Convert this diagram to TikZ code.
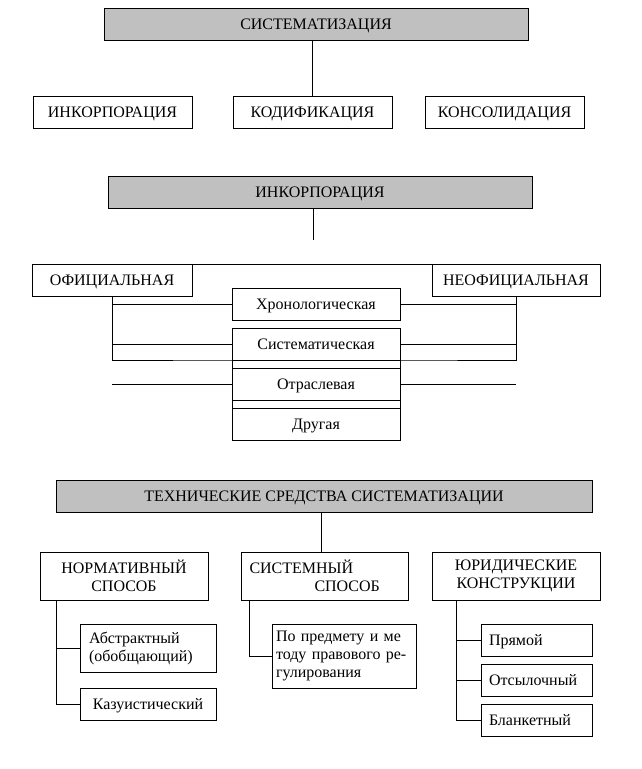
\documentclass[tikz,border=0pt]{standalone}
\usepackage{fontspec}
\setmainfont{Liberation Serif}
\definecolor{headgray}{HTML}{C0C0C0}
\tikzset{
	box/.style={draw, inner sep=0pt, outer sep=0pt, minimum height=32pt, text height=12pt, text depth=1.5pt, font=\fontsize{16}{18}\selectfont},
	headbox/.style={box, fill=headgray},
	multibox/.style={draw, inner sep=0pt, outer sep=0pt, font=\fontsize{16}{18}\selectfont},
	leafbox/.style={box, align=left}
}
\begin{document}
\begin{tikzpicture}[x=1pt, y=-1pt, line width=0.9pt]
		\useasboundingbox (0,0) rectangle (641,769);
		% systematisation
		\node[headbox, minimum width=424pt] (sys) at (316,24) {СИСТЕМАТИЗАЦИЯ};
		\node[box, minimum width=159pt] (inc) at (112.5,112) {ИНКОРПОРАЦИЯ};
		\node[box, minimum width=159pt] (cod) at (312.5,112) {КОДИФИКАЦИЯ};
		\node[box, minimum width=159pt] (cons) at (504.5,112) {КОНСОЛИДАЦИЯ};
		\draw (cod.north |- sys.south) -- (cod.north);
		
		% incorporation
		\node[headbox, minimum width=424pt] (inchead) at (320,192) {ИНКОРПОРАЦИЯ};
		\coordinate (incend) at (313,240);
		\draw (incend |- inchead.south) -- (incend);
		\node[box, minimum width=160pt] (ofic) at (112,280) {ОФИЦИАЛЬНАЯ};
		\node[box, minimum width=168pt] (neof) at (516,280) {НЕОФИЦИАЛЬНАЯ};
		\node[box, minimum width=168pt] (chron) at (316,304) {Хронологическая};
		\node[box, minimum width=168pt] (syst) at (316,344) {Систематическая};
		\node[box, minimum width=168pt] (otr) at (316,384) {Отраслевая};
		\node[box, minimum width=168pt] (oth) at (316,424) {Другая};
		\draw (ofic.north east) -- (neof.north west);
		\draw (syst.south west) -- (otr.north west) (syst.south east) -- (otr.north east);
		\draw (otr.south west) -- (oth.north west) (otr.south east) -- (oth.north east);
		\draw (ofic.south) |- (syst.south west) -- (syst.south east) -| (neof.south);
		\foreach \n in {chron,syst,otr}
			\draw (ofic.south |- \n.west) -- (\n.west) (\n.east) -- (neof.south |- \n.east);
		
		% technical means
		\node[headbox, minimum width=536pt] (tech) at (324,496) {ТЕХНИЧЕСКИЕ СРЕДСТВА СИСТЕМАТИЗАЦИИ};
		\node[multibox, minimum width=168pt, minimum height=48pt, align=center] (norm) at (124,576) {НОРМАТИВНЫЙ\\СПОСОБ};
		\node[multibox, minimum width=167pt, minimum height=48pt, text width=150pt, align=left] (sysm) at (324.5,576) {СИСТЕМНЫЙ\\\hspace*{65pt}СПОСОБ};
		\node[multibox, minimum width=168pt, minimum height=48pt, align=center] (jur) at (516,576) {ЮРИДИЧЕСКИЕ\\КОНСТРУКЦИИ};
		\coordinate (techend) at (321,552);
		\draw (techend |- tech.south) -- (techend);
		
		\node[multibox, minimum width=136pt, minimum height=48pt, text width=118pt, align=left] (abstr) at (148,648) {Абстрактный\\(обобщающий)};
		\node[box, minimum width=136pt] (kaz) at (148,704) {Казуистический};
		\coordinate (normline) at ([xshift=16pt]norm.south west);
		\draw (normline) |- (kaz.west);
		\draw (normline |- abstr.west) -- (abstr.west);
		
		\node[multibox, minimum width=144pt, minimum height=64pt, text width=136pt, align=left] (pred) at (344,656) {По предмету и ме\\тоду правового ре-\\гулирования};
		\coordinate (sysmline) at ([xshift=8pt]sysm.south west);
		\draw (sysmline) |- (pred.west);
		
		\node[leafbox, minimum width=111pt, text width=95pt] (pryam) at (536.5,640) {Прямой};
		\node[leafbox, minimum width=111pt, text width=95pt] (ots) at (536.5,680) {Отсылочный};
		\node[leafbox, minimum width=111pt, text width=95pt] (blank) at (536.5,720) {Бланкетный};
		\coordinate (jurline) at ([xshift=24pt]jur.south west);
		\draw (jurline) |- (blank.west);
		\foreach \n in {pryam,ots}
			\draw (jurline |- \n.west) -- (\n.west);
\end{tikzpicture}
\end{document}
